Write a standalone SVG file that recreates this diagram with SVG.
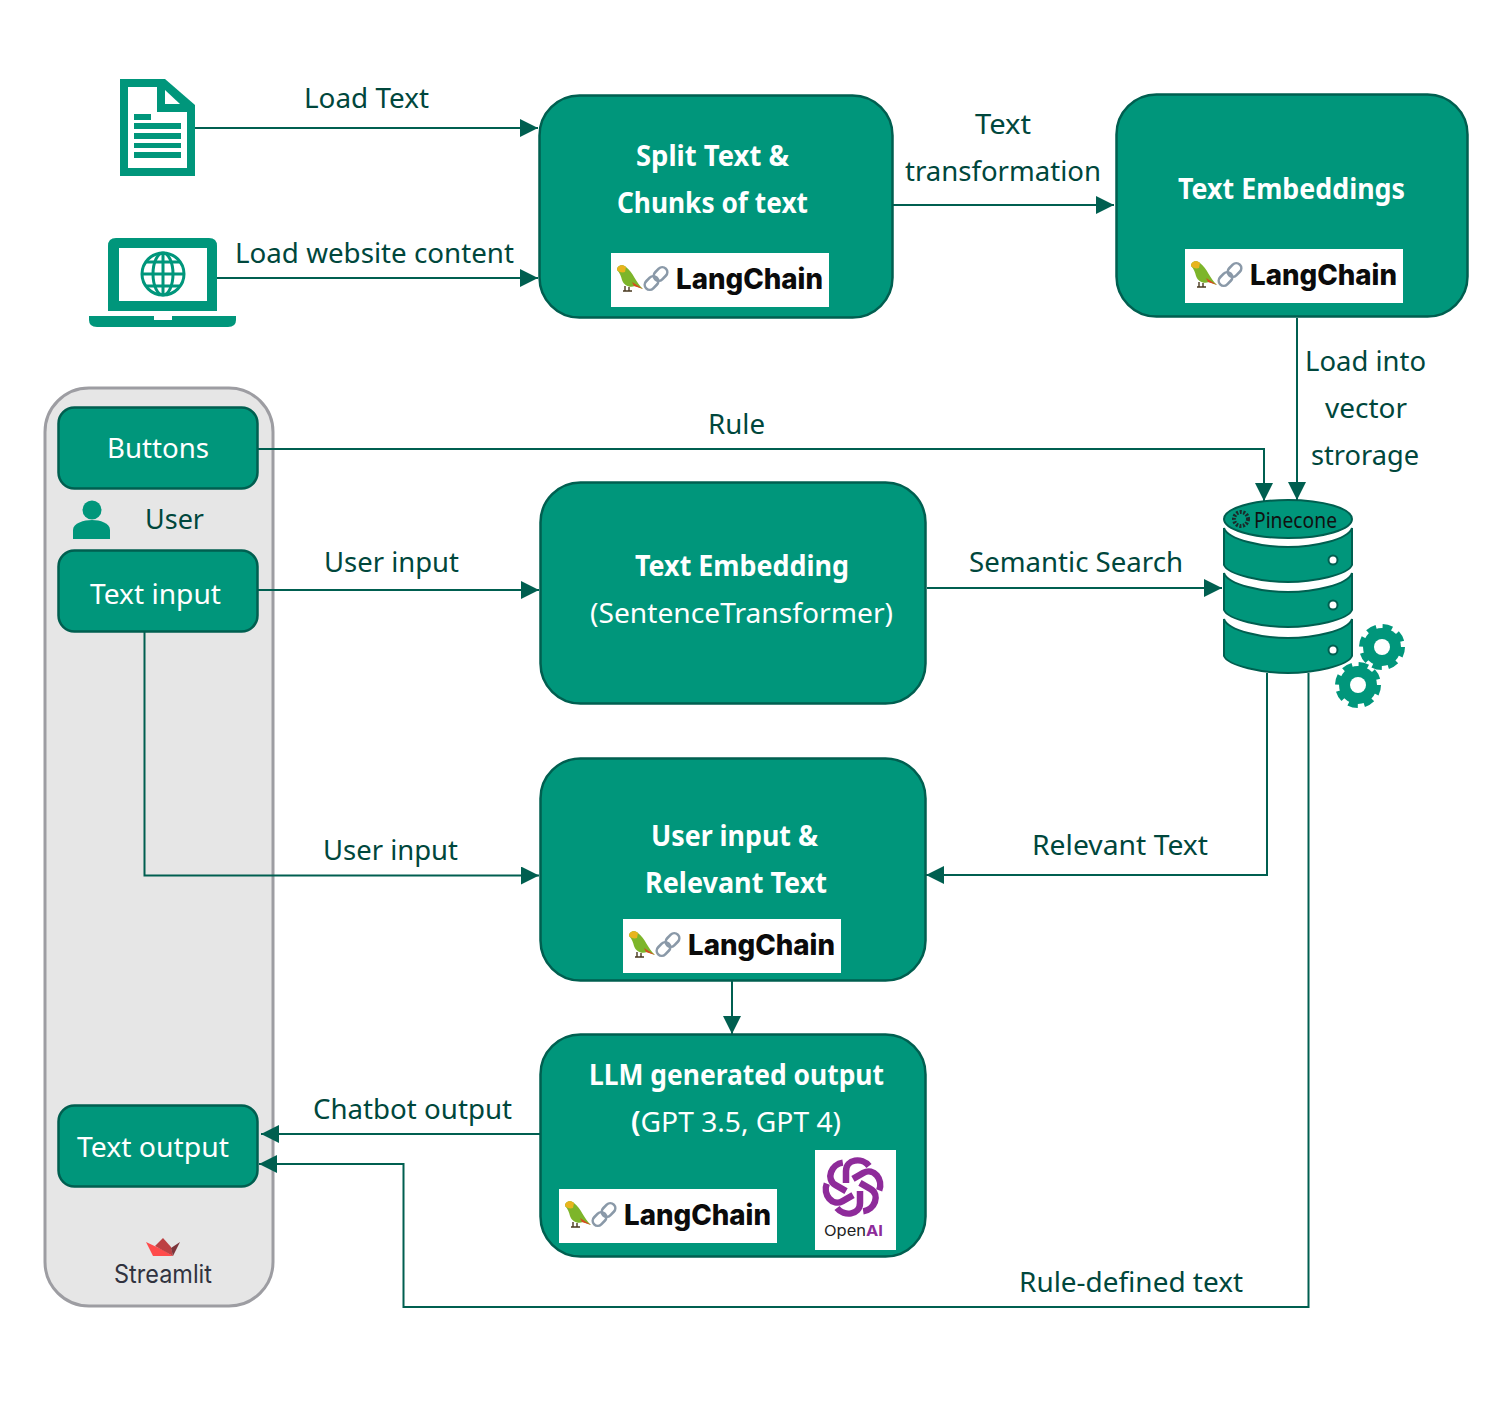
<svg xmlns="http://www.w3.org/2000/svg" width="1504" height="1425" viewBox="0 0 1504 1425">
<style>
text{font-family:"Noto Sans","Open Sans","Liberation Sans",sans-serif;font-size:28px}
.l{fill:#00473C}
.w{fill:#fff}
.b{fill:#fff;font-weight:700}
.big{fill:#00967B;stroke:#005F50;stroke-width:2.500}
.small{fill:#00967B;stroke:#005F50;stroke-width:2.500}
.c{fill:none;stroke:#005F50;stroke-width:2;marker-end:url(#a)}
.i{fill:#00967B}
.lc{font-family:"Inter","Liberation Sans",sans-serif;font-weight:800;font-size:28px;fill:#0b0b0b}
</style>
<defs>
<marker id="a" markerUnits="userSpaceOnUse" markerWidth="20" markerHeight="20" refX="18" refY="9" orient="auto"><path d="M0 0L18 9L0 18Z" fill="#005F50"/></marker>
<g id="logo">
<rect width="218" height="54" fill="#fff"/>
<path d="M6 17C6 12 12 11 15 14C22 19 25 30 32 36L24 33C19 35 13 33 11 27C10 23 9 20 6 17Z" fill="#7DB52A"/>
<path d="M6 17C6 12 12 11 15 14L14 19C11 20 8 19 6 17Z" fill="#E8B41E"/>
<path d="M21 29L32 36L23 33Z" fill="#D8481E"/>
<path d="M14 33V38M18 34V38M12 38H21" stroke="#4a3a20" stroke-width="1.400" fill="none"/>
<g fill="none" stroke="#8A99A8" stroke-width="2.600">
<rect x="42" y="16" width="15" height="10" rx="5" transform="rotate(-45 49.500 21)"/>
<rect x="33" y="25" width="15" height="10" rx="5" transform="rotate(-45 40.500 30)"/>
</g>
<text class="lc" x="65" y="36" textLength="147" lengthAdjust="spacingAndGlyphs">LangChain</text>
</g>
<g id="gear">
<circle r="19" class="i"/>
<circle r="20.500" fill="none" stroke="#00967B" stroke-width="5" stroke-dasharray="9.600 6.500"/>
<circle r="8" fill="#fff"/>
</g>
<path id="layer" d="M-64 0C-60 12 -25 19 0 19C25 19 60 12 64 0V37C60 47 25 54 0 54C-25 54 -60 47 -64 37Z" fill="#00967B" stroke="#005F50" stroke-width="2"/>
<path id="petal" d="M-7 -4V-16C-7 -28 9 -30 16 -21" fill="none" stroke="#8E2B9A" stroke-width="6.500"/>
</defs>

<rect width="1504" height="1425" fill="#fff"/>

<g id="streamlit-panel">
<rect x="45" y="388" width="228" height="918" rx="44" fill="#E6E6E6" stroke="#9D9DA2" stroke-width="3"/>
<path d="M146 1242L153 1256H173L163 1250Z" fill="#FF4B4B"/>
<path d="M155 1246L163 1238L171 1247L173 1256Z" fill="#BD4043"/>
<path d="M171 1248L180 1242L173 1256Z" fill="#7D353B"/>
<text x="114" y="1283" textLength="98" lengthAdjust="spacingAndGlyphs" style="font-family:Inter,'Liberation Sans',sans-serif;font-size:25px" fill="#31333F">Streamlit</text>
</g>

<g id="connectors">
<path class="c" d="M195 128H538"/>
<path class="c" d="M217 278H538"/>
<path class="c" d="M893 205H1114"/>
<path class="c" d="M1297 318V500"/>
<path class="c" d="M258 449H1264V501"/>
<path class="c" d="M258 590H539"/>
<path class="c" d="M927 588H1222"/>
<path class="c" d="M144.500 632V875.500H539"/>
<path class="c" d="M1267 673V875H926"/>
<path class="c" d="M732 981V1034"/>
<path class="c" d="M540 1134H261"/>
<path class="c" d="M1308.500 673V1307H403.500V1164H259"/>
</g>

<g id="connector-labels">
<text class="l" x="304" y="108" textLength="125" lengthAdjust="spacingAndGlyphs">Load Text</text>
<text class="l" x="235" y="263" textLength="279" lengthAdjust="spacingAndGlyphs">Load website content</text>
<text class="l" x="975" y="134" textLength="56" lengthAdjust="spacingAndGlyphs">Text</text>
<text class="l" x="905" y="181" textLength="196" lengthAdjust="spacingAndGlyphs">transformation</text>
<text class="l" x="1305" y="371" textLength="121" lengthAdjust="spacingAndGlyphs">Load into</text>
<text class="l" x="1325" y="418" textLength="82" lengthAdjust="spacingAndGlyphs">vector</text>
<text class="l" x="1311" y="465" textLength="108" lengthAdjust="spacingAndGlyphs">strorage</text>
<text class="l" x="708" y="434" textLength="57" lengthAdjust="spacingAndGlyphs">Rule</text>
<text class="l" x="324" y="572" textLength="135" lengthAdjust="spacingAndGlyphs">User input</text>
<text class="l" x="969" y="572" textLength="214" lengthAdjust="spacingAndGlyphs">Semantic Search</text>
<text class="l" x="323" y="860" textLength="135" lengthAdjust="spacingAndGlyphs">User input</text>
<text class="l" x="1032" y="855" textLength="176" lengthAdjust="spacingAndGlyphs">Relevant Text</text>
<text class="l" x="313" y="1119" textLength="199" lengthAdjust="spacingAndGlyphs">Chatbot output</text>
<text class="l" x="1019" y="1292" textLength="224" lengthAdjust="spacingAndGlyphs">Rule-defined text</text>
</g>

<g id="doc-icon">
<path class="i" d="M120 79H165L195 105V176H120Z"/>
<path fill="#fff" d="M128 87H157V112H187V168H128Z"/>
<path fill="#fff" d="M165 90L180 104H165Z"/>
<path class="i" d="M134 114H151V120H134ZM134 123H181V129H134ZM134 133H181V139H134ZM134 143H181V148H134ZM134 152H181V158H134Z"/>
</g>

<g id="laptop-icon">
<path class="i" d="M108 311V246Q108 238 116 238H209Q217 238 217 246V311Z"/>
<rect x="119" y="248" width="88" height="53" fill="#fff"/>
<path class="i" d="M89 316H154V320H172V316H236V320Q236 327 228 327H97Q89 327 89 320Z"/>
<g fill="none" stroke="#00967B" stroke-width="3">
<circle cx="163" cy="274" r="21"/>
<ellipse cx="163" cy="274" rx="10" ry="21"/>
<path d="M163 253V295M142 274H184M146 262H180M146 286H180"/>
</g>
</g>

<g id="split-text">
<rect class="big" x="539.500" y="95.500" width="353" height="222" rx="40"/>
<text class="b" x="636" y="166" textLength="153" lengthAdjust="spacingAndGlyphs">Split Text &amp;</text>
<text class="b" x="617" y="213" textLength="191" lengthAdjust="spacingAndGlyphs">Chunks of text</text>
<use href="#logo" x="611" y="253"/>
</g>

<g id="text-embeddings">
<rect class="big" x="1116.500" y="94.500" width="351" height="222" rx="40"/>
<text class="b" x="1178" y="199" textLength="227" lengthAdjust="spacingAndGlyphs">Text Embeddings</text>
<use href="#logo" x="1185" y="249"/>
</g>

<g id="buttons">
<rect class="small" x="58.500" y="407.500" width="199" height="81" rx="16"/>
<text class="w" x="107" y="458" textLength="102" lengthAdjust="spacingAndGlyphs">Buttons</text>
</g>

<g id="user">
<circle class="i" cx="92" cy="510" r="9.500"/>
<path class="i" d="M73 539V530C73 523 84 520 92 520C100 520 110 523 110 530V539Z"/>
<text class="l" x="145" y="529" textLength="59" lengthAdjust="spacingAndGlyphs">User</text>
</g>

<g id="text-input">
<rect class="small" x="58.500" y="550.500" width="199" height="81" rx="16"/>
<text class="w" x="90" y="604" textLength="131" lengthAdjust="spacingAndGlyphs">Text input</text>
</g>

<g id="text-output">
<rect class="small" x="58.500" y="1105.500" width="199" height="81" rx="16"/>
<text class="w" x="77" y="1157" textLength="152" lengthAdjust="spacingAndGlyphs">Text output</text>
</g>

<g id="text-embedding">
<rect class="big" x="540.500" y="482.500" width="385" height="221" rx="40"/>
<text class="b" x="635" y="576" textLength="214" lengthAdjust="spacingAndGlyphs">Text Embedding</text>
<text class="w" x="590" y="623" textLength="303" lengthAdjust="spacingAndGlyphs">(SentenceTransformer)</text>
</g>

<g id="user-input-relevant">
<rect class="big" x="540.500" y="758.500" width="385" height="222" rx="40"/>
<text class="b" x="651" y="846" textLength="167" lengthAdjust="spacingAndGlyphs">User input &amp;</text>
<text class="b" x="645" y="893" textLength="182" lengthAdjust="spacingAndGlyphs">Relevant Text</text>
<use href="#logo" x="623" y="919"/>
</g>

<g id="llm-output">
<rect class="big" x="540.500" y="1034.500" width="385" height="222" rx="40"/>
<text class="b" x="589" y="1085" textLength="295" lengthAdjust="spacingAndGlyphs">LLM generated output</text>
<text class="w" x="631" y="1132" textLength="210" lengthAdjust="spacingAndGlyphs"><tspan font-weight="700">(</tspan>GPT 3.5, GPT 4)</text>
<use href="#logo" x="559" y="1189"/>
<rect x="815" y="1150" width="81" height="100" fill="#fff"/>
<g transform="translate(853 1187)">
<use href="#petal"/>
<use href="#petal" transform="rotate(60)"/>
<use href="#petal" transform="rotate(120)"/>
<use href="#petal" transform="rotate(180)"/>
<use href="#petal" transform="rotate(240)"/>
<use href="#petal" transform="rotate(300)"/>
</g>
<text x="824" y="1236" textLength="59" lengthAdjust="spacingAndGlyphs" style="font-family:Inter,'Liberation Sans',sans-serif;font-size:15px;font-weight:400" fill="#222">Open<tspan fill="#8E2B9A" font-weight="700">AI</tspan></text>
</g>

<g id="pinecone">
<use href="#layer" x="1288" y="528"/>
<use href="#layer" x="1288" y="573"/>
<use href="#layer" x="1288" y="619"/>
<ellipse cx="1288" cy="519" rx="64" ry="19" fill="#00967B" stroke="#005F50" stroke-width="2"/>
<g fill="#fff" stroke="#005F50" stroke-width="2">
<circle cx="1333" cy="560" r="4.500"/>
<circle cx="1333" cy="605" r="4.500"/>
<circle cx="1333" cy="650" r="4.500"/>
</g>
<circle cx="1241" cy="519" r="7" fill="none" stroke="#1b2a2a" stroke-width="4" stroke-dasharray="2 1.500"/>
<text x="1254" y="528" textLength="83" lengthAdjust="spacingAndGlyphs" style="font-size:21px" fill="#111">Pinecone</text>
<use href="#gear" x="1382" y="647"/>
<use href="#gear" x="1358" y="685"/>
</g>
</svg>
